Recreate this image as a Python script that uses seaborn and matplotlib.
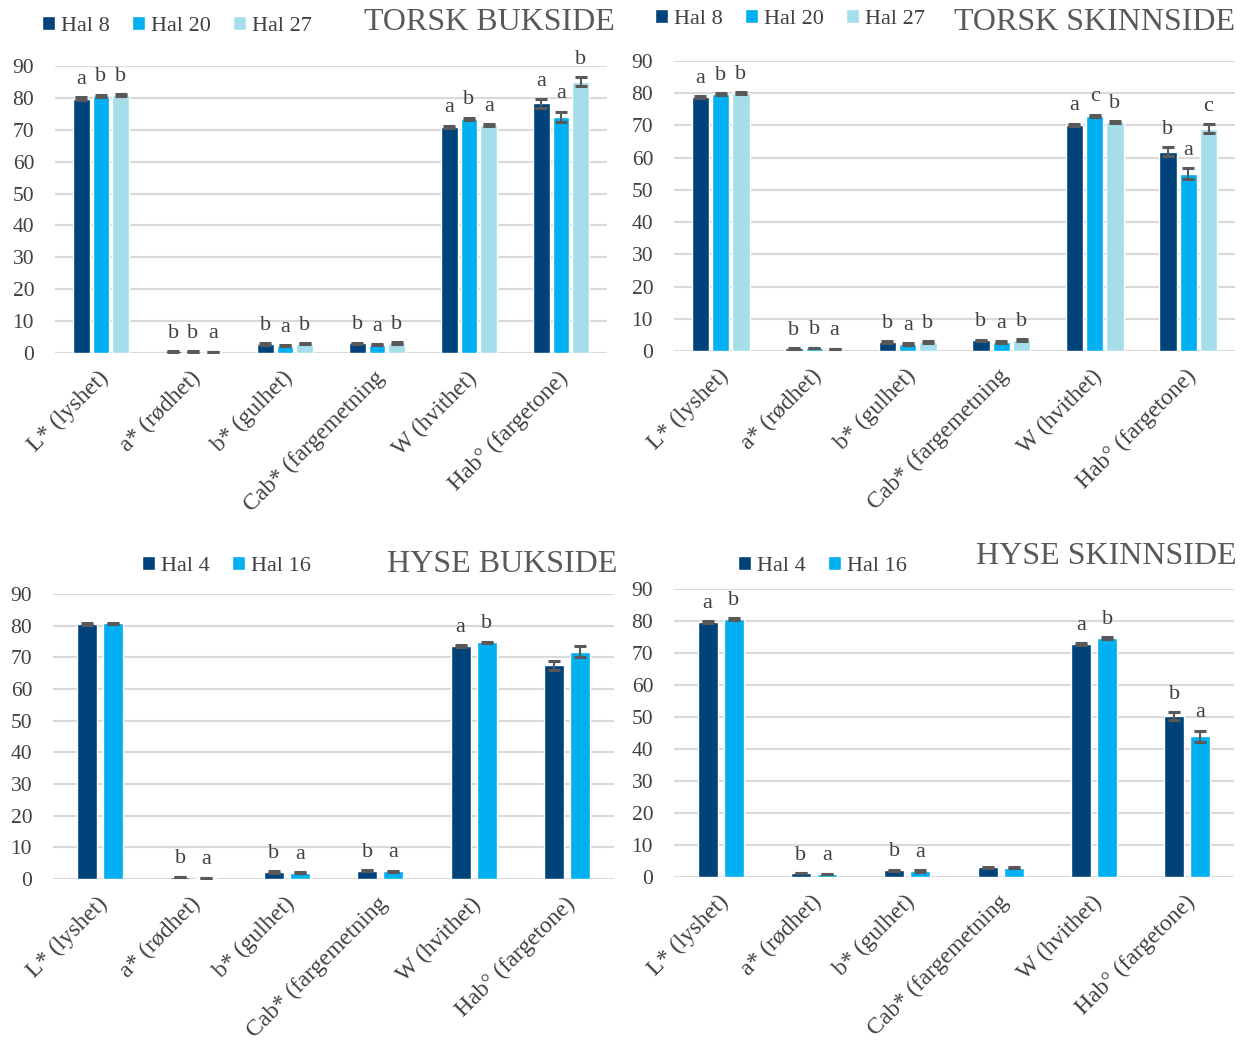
import numpy as np
import pandas as pd
import matplotlib
matplotlib.use("Agg")
import matplotlib.pyplot as plt
import matplotlib.transforms as mtransforms
import seaborn as sns

# parameters on the x axis
params = ["L* (lyshet)", "a* (rødhet)", "b* (gulhet)", "Cab* (fargemetning",
          "W (hvithet)", "Hab° (fargetone)"]

# TORSK BUKSIDE
tb_groups = ["Hal 8", "Hal 20", "Hal 27"]
tb_hal8 = [79.8, 0.5, 2.8, 3.0, 71.0, 78.3]
tb_hal20 = [80.7, 0.5, 2.3, 2.6, 73.5, 74.0]
tb_hal27 = [80.8, 0.3, 2.9, 3.1, 71.5, 85.0]
tb_err8 = [0.4, 0.1, 0.2, 0.2, 0.3, 1.4]
tb_err20 = [0.3, 0.1, 0.2, 0.2, 0.3, 1.7]
tb_err27 = [0.3, 0.1, 0.2, 0.2, 0.3, 1.4]
tb_let8 = ["a", "b", "b", "b", "a", "a"]
tb_let20 = ["b", "b", "a", "a", "b", "a"]
tb_let27 = ["b", "a", "b", "b", "a", "b"]

# TORSK SKINNSIDE
ts_groups = ["Hal 8", "Hal 20", "Hal 27"]
ts_hal8 = [78.8, 0.8, 2.8, 3.3, 70.2, 61.8]
ts_hal20 = [79.8, 0.9, 2.2, 2.8, 73.0, 55.0]
ts_hal27 = [80.0, 0.6, 2.8, 3.4, 71.0, 69.0]
ts_err8 = [0.3, 0.1, 0.2, 0.2, 0.3, 1.4]
ts_err20 = [0.3, 0.1, 0.2, 0.2, 0.3, 1.7]
ts_err27 = [0.3, 0.1, 0.2, 0.2, 0.3, 1.3]
ts_let8 = ["a", "b", "b", "b", "a", "b"]
ts_let20 = ["b", "b", "a", "a", "c", "a"]
ts_let27 = ["b", "a", "b", "b", "b", "c"]

# HYSE BUKSIDE
hb_groups = ["Hal 4", "Hal 16"]
hb_hal4 = [80.5, 0.6, 2.2, 2.6, 73.5, 67.5]
hb_hal16 = [80.7, 0.3, 2.0, 2.4, 74.7, 71.8]
hb_err4 = [0.3, 0.1, 0.2, 0.2, 0.3, 1.4]
hb_err16 = [0.3, 0.1, 0.2, 0.2, 0.3, 1.8]
hb_let4 = ["", "b", "b", "b", "a", ""]
hb_let16 = ["", "a", "a", "a", "b", ""]

# HYSE SKINNSIDE
hs_groups = ["Hal 4", "Hal 16"]
hs_hal4 = [79.6, 1.2, 2.1, 3.0, 72.8, 50.3]
hs_hal16 = [80.6, 0.9, 1.9, 2.9, 74.6, 44.0]
hs_err4 = [0.3, 0.1, 0.2, 0.2, 0.3, 1.2]
hs_err16 = [0.3, 0.1, 0.2, 0.2, 0.3, 1.7]
hs_let4 = ["a", "b", "b", "", "a", "b"]
hs_let16 = ["b", "a", "a", "", "b", "a"]

colors = ["#00437A", "#00B0F0", "#A5DDE9"]
TXT = "#404040"

sns.set_theme(style="white")
plt.rcParams["font.family"] = ["Liberation Serif", "DejaVu Serif"]

W, H = 1246, 1043
fig = plt.figure(figsize=(W / 100, H / 100), dpi=100)


def px_axes(l, t, r, b):
    return fig.add_axes([l / W, 1 - b / H, (r - l) / W, (b - t) / H])


def draw_panel(ax, groups, series, errs, letters, title, width, gap,
               leg_x, leg_y, title_x, title_y):
    df = pd.DataFrame({
        "param": params * len(groups),
        "group": np.repeat(groups, len(params)),
        "value": np.concatenate(series),
    })
    sns.barplot(data=df, x="param", y="value", hue="group", order=params,
                hue_order=groups, palette=colors[:len(groups)], width=width,
                gap=gap, errorbar=None, saturation=1, legend=False, ax=ax)
    for cont, err, lab in zip(ax.containers, errs, letters):
        xs = [b.get_x() + b.get_width() / 2 for b in cont]
        hs = [b.get_height() for b in cont]
        ax.errorbar(xs, hs, yerr=err, fmt="none", ecolor="#595959",
                    elinewidth=1.5, capsize=4.5, capthick=2.2, zorder=3)
        for x, h, e, t in zip(xs, hs, err, lab):
            if t:
                ax.annotate(t, (x, h + e), xytext=(0, 6), textcoords="offset points",
                            ha="center", va="bottom", fontsize=16, color=TXT,
                            annotation_clip=False)
    ax.set_ylim(0, 90)
    ax.set_yticks(range(0, 91, 10))
    ax.set_xlim(-0.5, len(params) - 0.5)
    ax.set_xlabel("")
    ax.set_ylabel("")
    ax.grid(axis="y", color="#D9D9D9", linewidth=1.5)
    ax.set_axisbelow(True)
    sns.despine(ax=ax, left=True, bottom=True, top=True, right=True)
    ax.tick_params(axis="y", length=0, pad=15, labelsize=15.5, labelcolor=TXT)
    ax.tick_params(axis="x", length=0, pad=9, labelsize=17, labelcolor=TXT)
    shift = mtransforms.ScaledTranslation(-3 / 100, -2 / 100, fig.dpi_scale_trans)
    for lbl in ax.get_xticklabels():
        lbl.set_rotation(45)
        lbl.set_ha("right")
        lbl.set_rotation_mode("anchor")
        lbl.set_transform(lbl.get_transform() + shift)
    ax.legend(ax.containers, groups, loc="center left",
              bbox_to_anchor=(leg_x / W, 1 - leg_y / H), bbox_transform=fig.transFigure,
              ncol=len(groups), frameon=False, fontsize=16, labelcolor=TXT,
              handlelength=0.6, handleheight=0.6, handletextpad=0.25,
              columnspacing=1.0, borderaxespad=0, borderpad=0)
    fig.text(title_x / W, 1 - title_y / H, title, ha="right", va="center",
             fontsize=23, color="#595959")


ax1 = px_axes(55, 66, 607, 353)
draw_panel(ax1, tb_groups, [tb_hal8, tb_hal20, tb_hal27], [tb_err8, tb_err20, tb_err27],
           [tb_let8, tb_let20, tb_let27], "TORSK BUKSIDE", 0.65, 0.15, 42, 26, 615, 22)

ax2 = px_axes(674, 61, 1235, 351)
draw_panel(ax2, ts_groups, [ts_hal8, ts_hal20, ts_hal27], [ts_err8, ts_err20, ts_err27],
           [ts_let8, ts_let20, ts_let27], "TORSK SKINNSIDE", 0.65, 0.15, 655, 19, 1235, 22)

ax3 = px_axes(53, 594, 614, 879)
draw_panel(ax3, hb_groups, [hb_hal4, hb_hal16], [hb_err4, hb_err16],
           [hb_let4, hb_let16], "HYSE BUKSIDE", 0.56, 0.23, 142, 566, 617, 565)

ax4 = px_axes(674, 589, 1234, 877)
draw_panel(ax4, hs_groups, [hs_hal4, hs_hal16], [hs_err4, hs_err16],
           [hs_let4, hs_let16], "HYSE SKINNSIDE", 0.56, 0.23, 738, 566, 1237, 557)

fig.savefig("out.png", dpi=100)
